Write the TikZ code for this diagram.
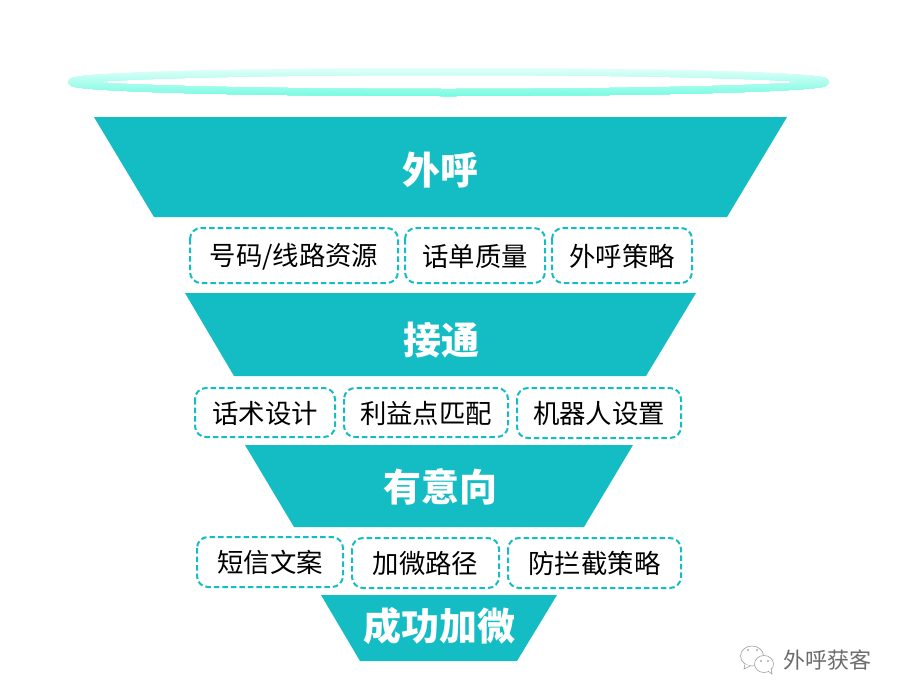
\documentclass[tikz,border=0pt]{standalone}
\usepackage{fontspec}
\setmainfont{Noto Sans CJK SC}
\definecolor{teal1}{HTML}{14BCC4}
\definecolor{ringtop}{HTML}{E6FFFA}
\definecolor{ringbot}{HTML}{78FBE2}
\tikzset{
  funnel/.style={fill=teal1,draw=none},
  title/.style={text=white,font=\bfseries\fontsize{38}{41}\selectfont,inner sep=0pt},
  tag/.style={draw=teal1,line width=2pt,dash pattern=on 5.5pt off 3pt,rounded corners=11pt,fill=white},
  taglabel/.style={text=black,font=\fontsize{26.4}{30}\selectfont,inner sep=0pt},
  wmark/.style={draw=gray!75,line width=0.6pt,fill=white}
}
\begin{document}
\begin{tikzpicture}[x=1pt,y=-1pt]
\useasboundingbox (0,0) rectangle (899,699);
\fill[white] (0,0) rectangle (899,699);
% ring: a stroked ellipse, graded from top to bottom in thin overlaid bands
\foreach \i in {0,...,29}{
  \pgfmathsetmacro{\pct}{100*\i/29}
  \begin{scope}
    \clip (60,67+\i) rectangle (840,100);
    \draw[ringbot!\pct!ringtop,line width=7pt,line join=round] (448.5,82) ellipse [x radius=377,y radius=10.5];
  \end{scope}
}
% funnel
\fill[funnel] (94,117)--(787,117)--(727,217)--(154,217)--cycle;
\fill[funnel] (185,293)--(696,293)--(646,376)--(234,376)--cycle;
\fill[funnel] (245,445)--(633,445)--(584,527)--(294,527)--cycle;
\fill[funnel] (321,595)--(557,595)--(517,661)--(360,661)--cycle;
\node[title] (t1) at (440.5,170) {外呼};
\node[title] (t2) at (441,340) {接通};
\node[title] (t3) at (440.5,487) {有意向};
\node[title] (t4) at (439.5,626) {成功加微};
% tags
\draw[tag] (190,228) rectangle (398,283);
\draw[tag] (405,228) rectangle (545,283);
\draw[tag] (552,228) rectangle (692,283);
\draw[tag] (195,388) rectangle (335,437);
\draw[tag] (344,388) rectangle (508,437);
\draw[tag] (517,388) rectangle (681,438);
\draw[tag] (197,537) rectangle (343,587);
\draw[tag] (352,538) rectangle (499,588);
\draw[tag] (508,538) rectangle (681,588);
\node[taglabel] (a1) at (294,256.5) {号码/线路资源};
\node[taglabel] (a2) at (475,256.5) {话单质量};
\node[taglabel] (a3) at (622,256.5) {外呼策略};
\node[taglabel] (b1) at (265,413.5) {话术设计};
\node[taglabel] (b2) at (426,413.5) {利益点匹配};
\node[taglabel] (b3) at (599,413.5) {机器人设置};
\node[taglabel] (c1) at (270,562.5) {短信文案};
\node[taglabel] (c2) at (425.5,563.5) {加微路径};
\node[taglabel] (c3) at (594.5,563.5) {防拦截策略};
% watermark
\draw[wmark] (752,656) ellipse [x radius=11.5,y radius=10];
\draw[wmark] (745,664)--(744,669)--(750,666);
\draw[wmark] (764,664) ellipse [x radius=9.5,y radius=8.5];
\draw[wmark,fill=white] (768,671)--(772,674)--(771,668);
\fill[gray] (748,650) circle (0.9pt) (757,650) circle (0.9pt) (761,661) circle (0.9pt) (768,661) circle (0.9pt);
\node[text=gray!85!black,font=\fontsize{22}{24}\selectfont,inner sep=0pt] (w) at (827.5,660) {外呼获客};
\end{tikzpicture}
\end{document}
